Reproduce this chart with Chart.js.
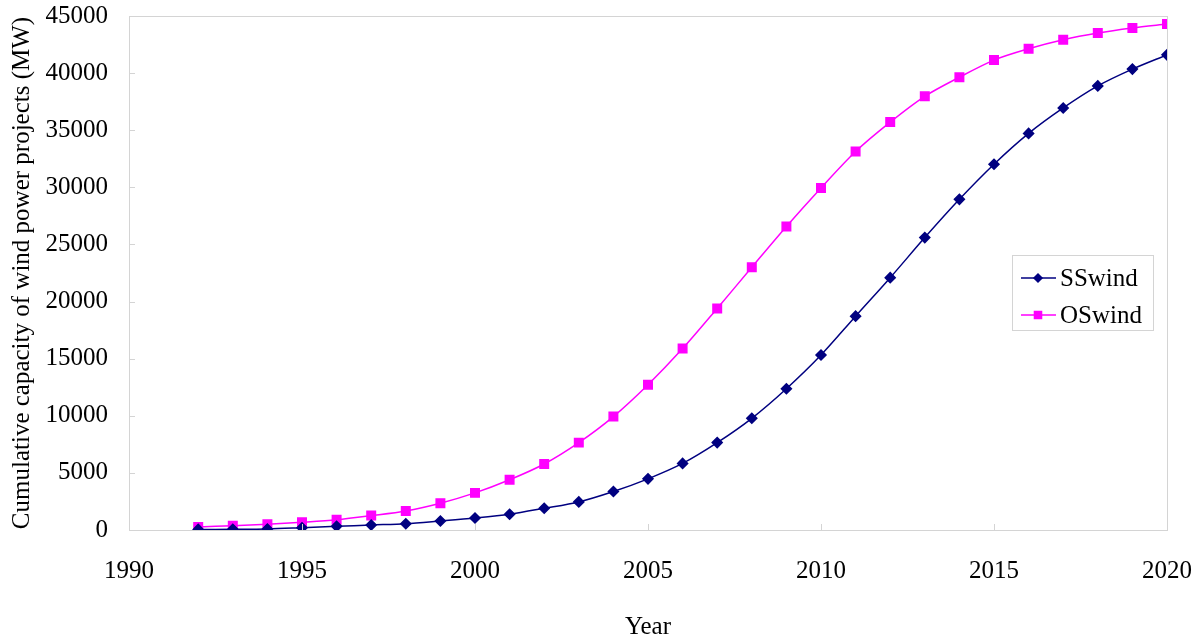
<!DOCTYPE html>
<html>
<head>
<meta charset="utf-8">
<script src="https://cdn.jsdelivr.net/npm/chart.js@4"></script>
<style>
  html, body { margin: 0; padding: 0; background: #fff; }
  #wrap { width: 1200px; height: 642px; }
</style>
</head>
<body>
<div id="wrap"><canvas id="chart"></canvas></div>
<script>
const years = [1992, 1993, 1994, 1995, 1996, 1997, 1998, 1999, 2000, 2001, 2002, 2003, 2004, 2005, 2006, 2007, 2008, 2009, 2010, 2011, 2012, 2013, 2014, 2015, 2016, 2017, 2018, 2019, 2020];
const ssWind = [50, 60, 90, 200, 320, 440, 550, 790, 1050, 1380, 1900, 2460, 3370, 4480, 5830, 7650, 9780, 12370, 15320, 18720, 22090, 25600, 28950, 32020, 34720, 36950, 38880, 40350, 41600];
const osWind = [260, 380, 500, 680, 900, 1260, 1670, 2350, 3250, 4400, 5780, 7650, 9930, 12720, 15880, 19400, 23000, 26570, 29950, 33140, 35710, 37970, 39640, 41140, 42130, 42920, 43510, 43950, 44300];
const xTicks = [1990, 1995, 2000, 2005, 2010, 2015, 2020];
const yTicks = [0, 5000, 10000, 15000, 20000, 25000, 30000, 35000, 40000, 45000];

const FONT = "'Liberation Serif', 'Times New Roman', serif";

// frame + inward tick marks, like the spreadsheet original
const framePlugin = {
    id: 'frame',
    afterDraw(chart) {
        const { ctx, chartArea: a, scales } = chart;
        ctx.save();
        ctx.strokeStyle = '#d4d4d4';
        ctx.lineWidth = 1;
        ctx.strokeRect(a.left + 0.5, a.top + 0.5, a.right - a.left, a.bottom - a.top);
        ctx.beginPath();
        xTicks.forEach(v => {
            const x = Math.round(scales.x.getPixelForValue(v)) + 0.5;
            ctx.moveTo(x, a.bottom); ctx.lineTo(x, a.bottom - 6);
        });
        yTicks.forEach(v => {
            const y = Math.round(scales.y.getPixelForValue(v)) + 0.5;
            ctx.moveTo(a.left, y); ctx.lineTo(a.left + 6, y);
        });
        ctx.stroke();
        ctx.restore();
    }
};

// legend box inside the plot, right side
const legendPlugin = {
    id: 'boxLegend',
    afterDraw(chart) {
        const ctx = chart.ctx;
        const bx = 1012, by = 255, bw = 141, bh = 75;
        ctx.save();
        ctx.fillStyle = '#fff';
        ctx.fillRect(bx, by, bw, bh);
        ctx.strokeStyle = '#d4d4d4';
        ctx.lineWidth = 1;
        ctx.strokeRect(bx + 0.5, by + 0.5, bw, bh);
        ctx.font = '25px ' + FONT;
        ctx.textBaseline = 'middle';
        chart.data.datasets.forEach((ds, i) => {
            const y = by + 23 + i * 37;
            ctx.strokeStyle = ds.borderColor;
            ctx.lineWidth = ds.borderWidth;
            ctx.beginPath();
            ctx.moveTo(bx + 9, y); ctx.lineTo(bx + 44, y);
            ctx.stroke();
            Chart.helpers.drawPoint(ctx, {
                pointStyle: ds.pointStyle, radius: ds.pointRadius - 1, borderWidth: 1
            }, bx + 26, y);
            ctx.fillStyle = ds.borderColor;
            ctx.fill();
            ctx.fillStyle = '#000';
            ctx.fillText(ds.label, bx + 48, y + 1);
        });
        ctx.restore();
    }
};

// drop the automatic label overhang so layout.padding alone sets the plot box
const noOverhang = s => { s.paddingLeft = s.paddingRight = s.paddingTop = s.paddingBottom = 0; };

new Chart(document.getElementById('chart'), {
    type: 'line',
    data: {
        datasets: [
            {
                label: 'SSwind',
                data: years.map((y, i) => ({ x: y, y: ssWind[i] })),
                borderColor: '#000080',
                backgroundColor: '#000080',
                borderWidth: 1.5,
                pointStyle: 'rectRot',
                pointRadius: 5,
                tension: 0.3
            },
            {
                label: 'OSwind',
                data: years.map((y, i) => ({ x: y, y: osWind[i] })),
                borderColor: '#ff00ff',
                backgroundColor: '#ff00ff',
                borderWidth: 1.5,
                pointStyle: 'rect',
                pointRadius: 6,
                tension: 0.3
            }
        ]
    },
    options: {
        responsive: true,
        maintainAspectRatio: false,
        animation: false,
        layout: { padding: { top: 16, right: 33, left: 0, bottom: 0 } },
        plugins: { legend: { display: false }, tooltip: { enabled: false } },
        scales: {
            x: {
                type: 'linear', min: 1990, max: 2020,
                afterBuildTicks: s => { s.ticks = xTicks.map(v => ({ value: v })); },
                afterFit: s => { s.height = 112; noOverhang(s); },
                grid: { display: false },
                border: { display: false },
                ticks: { color: '#000', font: { family: FONT, size: 25 }, padding: 18, callback: v => String(v) },
                title: { display: true, text: 'Year', color: '#000', font: { family: FONT, size: 25 }, padding: { top: 0, bottom: 0 } }
            },
            y: {
                min: 0, max: 45000,
                afterBuildTicks: s => { s.ticks = yTicks.map(v => ({ value: v })); },
                afterFit: s => { s.width = 129; noOverhang(s); },
                grid: { display: false },
                border: { display: false },
                ticks: { color: '#000', font: { family: FONT, size: 25 }, padding: 13, callback: v => String(v) },
                title: { display: true, text: 'Cumulative capacity of wind power projects (MW)', color: '#000', font: { family: FONT, size: 25 }, padding: { top: 7, bottom: 0 } }
            }
        }
    },
    plugins: [framePlugin, legendPlugin]
});
</script>
</body>
</html>
